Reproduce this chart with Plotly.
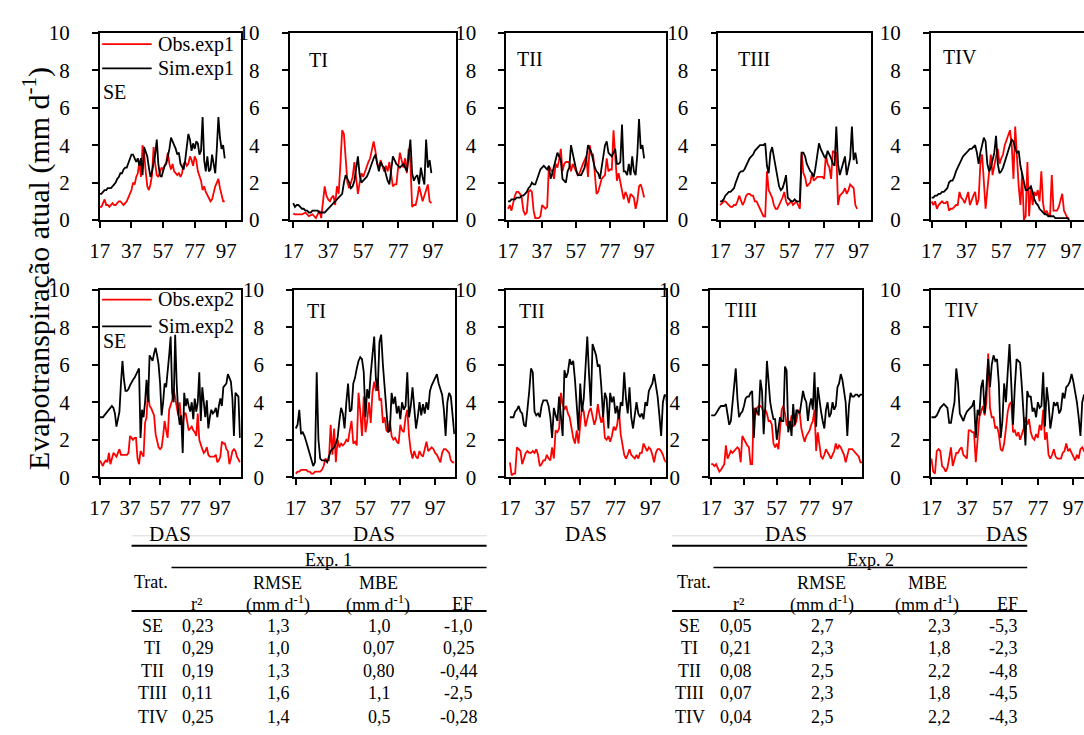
import plotly.graph_objects as go

W, H = 1084, 735
FONT = "Liberation Serif, Times New Roman, serif"

# ---------------- data (DAS starts at 17, one value per day) ----------------
DAS_START = 17
X_TICKS = [17, 37, 57, 77, 97]
Y_TICKS = [0, 2, 4, 6, 8, 10]

SE_OBS1 = [0.7,0.7,0.9,1.1,0.8,0.8,0.7,0.8,0.9,0.8, 0.8,0.9,1.0,1.0,0.9,0.8,0.9,1.0,1.2,1.4,
           1.6,2.0,1.9,2.3,2.5,3.1,2.3,4.0,3.6,2.6, 1.8,1.6,1.9,2.4,3.9,3.0,2.4,2.3,2.6,2.8,
           2.7,2.9,3.1,3.6,3.0,2.7,3.0,2.6,2.5,2.4, 2.5,2.3,2.5,3.0,3.1,2.9,3.0,3.4,3.2,2.9,
           3.4,3.2,2.6,2.3,2.1,1.6,1.8,1.5,1.3,1.2, 1.0,1.1,1.5,1.8,2.0,2.2,1.7,1.3,1.0,1.0]
SE_SIM1 = [1.4,1.4,1.5,1.6,1.6,1.7,1.7,1.7,1.8,1.9, 2.0,2.2,2.3,2.5,2.5,2.7,2.8,2.8,3.0,3.3,
           3.5,3.5,3.3,3.1,3.3,2.9,3.3,2.4,3.9,3.7, 3.4,2.8,2.3,2.6,3.0,3.5,4.3,3.0,2.4,2.3,
           2.6,2.9,3.0,3.4,3.8,4.4,4.2,4.1,3.8,3.5, 3.6,3.0,2.8,2.7,3.2,4.1,4.6,4.3,3.7,4.1,
           3.8,4.2,4.1,3.5,3.7,5.5,3.2,2.6,3.4,2.6, 2.7,3.5,3.0,2.5,3.8,5.5,4.4,3.8,4.0,3.3]

TI_OBS1 = [0.35,0.3,0.3,0.3,0.3,0.3,0.35,0.4,0.3,0.2, 0.25,0.3,0.2,0.1,0.3,0.5,0.1,0.8,1.8,1.3,
           1.1,1.0,1.2,1.3,0.8,1.8,1.4,3.0,4.8,4.6, 3.0,2.0,1.7,2.0,2.3,3.1,2.2,1.4,2.0,2.5,
           2.3,2.6,2.8,3.1,3.3,3.8,4.2,3.7,3.0,2.8, 3.2,2.9,2.6,2.9,2.6,3.1,2.3,1.8,1.9,1.9,
           2.8,3.6,3.2,2.8,3.3,2.5,3.8,3.1,0.7,0.8, 0.8,1.2,1.8,1.4,1.0,1.3,1.6,1.9,1.0,0.9]
TI_SIM1 = [0.9,0.7,0.8,0.8,0.7,0.6,0.6,0.5,0.5,0.4, 0.4,0.5,0.5,0.5,0.5,0.4,0.4,0.4,0.4,0.5,
           0.6,0.7,0.8,0.9,1.0,1.1,1.2,1.3,1.4,2.0, 2.4,2.2,2.0,1.7,1.8,2.1,2.8,3.4,2.4,2.0,
           2.1,2.2,2.3,2.5,2.8,3.0,3.3,3.5,3.0,2.6, 3.1,2.9,2.8,2.4,2.1,1.9,2.6,3.4,3.2,3.0,
           2.9,2.8,2.9,3.0,2.8,2.6,3.4,4.3,2.5,2.1, 2.3,2.4,1.9,2.8,2.3,1.9,4.3,2.8,3.2,2.5]

TII_OBS1 = [0.6,0.8,0.5,0.9,1.3,1.5,1.5,1.4,1.2,0.5, 0.3,0.4,1.5,1.6,1.5,0.5,0.1,0.1,0.1,0.2,
            0.8,0.7,0.6,0.7,2.9,2.7,2.6,2.2,3.0,2.8, 3.2,3.8,2.6,3.0,3.1,3.1,3.1,2.6,3.0,2.8,
            2.6,2.4,2.5,2.8,3.0,3.2,3.4,2.3,4.0,3.5, 3.5,2.5,1.4,1.5,1.8,2.2,2.3,2.4,3.3,2.6,
            2.7,2.7,4.8,3.5,2.1,2.5,2.0,1.5,1.1,1.5, 1.3,0.9,1.4,1.3,1.2,0.6,1.0,1.8,1.9,1.6,1.2]
TII_SIM1 = [1.0,1.0,1.1,1.1,1.1,1.2,1.2,1.2,1.3,1.3, 1.4,1.5,1.7,1.8,2.0,1.9,1.9,2.2,2.5,2.7,
            2.8,2.9,2.8,2.7,2.9,2.2,2.5,2.9,3.2,3.6, 3.4,3.2,2.2,2.1,2.0,2.6,2.8,4.0,3.5,3.0,
            2.7,2.4,2.4,2.4,2.6,2.8,3.3,4.0,3.8,3.6, 3.2,2.8,2.6,2.5,2.2,2.9,3.6,4.0,4.2,3.6,
            3.5,3.4,3.6,3.8,3.0,3.0,3.1,5.1,2.6,2.6, 2.4,3.0,2.4,3.4,2.6,2.4,3.5,5.4,3.8,4.0,3.3]

TIII_OBS1 = [0.8,0.9,1.0,1.0,0.9,0.8,0.7,0.7,0.8,0.8, 1.0,1.3,1.0,0.8,1.0,1.3,1.4,1.4,1.3,1.3,
             1.0,1.0,0.8,0.6,0.4,0.2,0.2,2.6,1.6,1.4, 1.2,0.8,0.6,0.6,0.8,1.0,1.2,1.5,1.0,0.8,
             0.9,1.0,0.8,0.9,1.0,0.8,0.6,3.6,2.5,2.3, 1.8,1.9,2.0,2.5,2.1,2.2,2.3,2.3,2.3,2.3,
             2.2,3.5,3.0,2.8,2.2,3.7,3.6,3.6,0.8,1.3, 1.4,1.5,1.7,1.4,1.6,1.9,1.8,1.7,0.8,0.6]
TIII_SIM1 = [1.0,1.0,1.1,1.3,1.4,1.5,1.5,1.6,1.7,2.0, 2.3,2.5,2.6,2.6,2.7,2.9,3.1,3.3,3.4,3.5,
             3.7,3.8,3.9,4.0,4.0,4.0,4.1,2.9,2.5,3.6, 3.9,3.4,2.9,2.3,1.8,1.6,1.7,2.0,2.4,1.2,
             1.1,1.0,1.0,1.1,1.0,1.0,1.0,3.6,3.6,3.4, 3.0,2.8,2.6,2.5,2.3,2.8,3.4,4.1,3.8,3.6,
             3.4,3.3,3.7,3.5,3.3,3.0,2.9,5.0,3.0,2.4, 2.7,3.0,3.4,2.4,2.9,3.3,5.0,3.2,3.6,3.0]

TIV_OBS1 = [1.0,0.8,1.0,0.6,0.8,0.9,1.0,0.9,0.9,1.0, 0.5,0.6,0.6,0.7,0.8,0.8,1.5,1.2,1.1,0.9,
            1.2,1.5,0.8,1.1,1.3,1.5,0.8,1.1,3.0,3.5, 1.8,0.6,1.6,2.5,3.5,2.4,3.0,3.4,3.8,3.0,
            3.3,3.5,4.0,4.3,4.6,4.8,4.0,2.2,5.0,3.0, 1.8,0.8,2.5,0.0,0.2,3.1,0.2,1.8,0.8,1.5,
            1.3,1.6,1.0,2.6,0.9,0.3,0.5,0.3,0.2,2.4, 0.5,0.5,0.5,0.7,1.0,1.4,0.5,0.3,0.1,0.1]
TIV_SIM1 = [1.2,1.2,1.3,1.3,1.4,1.4,1.5,1.5,1.6,1.7, 2.0,2.1,2.1,2.3,2.6,2.8,3.0,3.2,3.4,3.5,
            3.6,3.7,3.8,3.8,3.9,4.0,3.6,3.0,3.6,4.1, 4.4,4.2,3.0,2.6,2.8,3.2,3.6,4.5,3.0,2.5,
            2.6,2.8,3.1,3.5,3.8,4.0,4.3,4.2,3.8,3.6, 3.7,2.9,2.4,2.0,1.6,1.6,1.7,1.8,1.5,1.1,
            0.9,0.8,0.6,0.5,0.4,0.3,0.3,0.2,0.2,0.2, 0.2,0.1,0.1,0.1,0.1,0.1,0.1,0.1,0.1,0.0]

SE_OBS2 = [0.9,0.7,0.6,0.8,0.9,0.8,1.3,0.7,1.0,1.3, 1.2,1.1,1.3,1.5,1.2,1.2,1.2,1.2,1.2,1.3,
           2.2,2.1,2.0,2.1,2.1,1.0,0.7,1.4,1.2,1.1, 2.9,3.2,4.8,3.8,3.7,3.5,3.3,2.3,2.0,1.6,
           1.5,1.6,2.2,3.0,2.5,2.1,3.6,3.8,4.1,4.7, 4.3,3.9,3.3,4.0,3.0,2.8,3.4,3.4,3.0,2.5,
           2.6,2.7,2.5,2.4,2.2,3.4,2.0,1.7,1.5,1.3, 1.4,1.6,1.2,1.1,1.1,1.1,1.1,1.2,0.8,0.9,
           1.1,1.9,1.8,1.8,1.5,1.4,0.7,1.0,1.4,1.5, 1.4,1.1,0.9,0.8]
SE_SIM2 = [3.2,3.2,3.2,3.3,3.4,3.5,3.6,3.7,3.8,3.7, 3.4,2.7,3.2,3.5,5.0,6.2,5.2,4.6,4.6,4.7,
           4.9,5.1,5.2,5.3,5.5,5.7,5.8,2.1,3.6,3.2, 4.0,5.2,4.0,6.5,6.3,6.2,6.6,6.9,6.5,6.0,
           5.0,3.3,4.0,5.0,4.8,5.5,6.5,7.5,4.5,4.0, 7.6,5.0,3.5,2.8,3.3,1.3,4.5,3.8,4.2,3.8,
           3.5,4.0,3.1,4.2,3.5,4.0,5.6,3.0,4.8,4.0, 3.2,4.1,2.6,3.2,3.6,3.4,3.5,3.7,3.2,3.8,
           4.2,3.8,4.8,4.9,5.0,5.5,5.3,5.1,4.2,2.2, 4.5,4.4,4.3,2.1]

TI_OBS2 = [0.2,0.3,0.3,0.4,0.4,0.4,0.4,0.3,0.3,0.2, 0.2,0.3,0.3,0.3,0.3,0.4,0.6,1.0,0.9,0.9,
           2.8,1.2,2.6,0.8,2.0,1.6,1.8,1.7,1.8,2.0, 1.9,2.5,3.0,1.8,1.9,1.7,4.5,3.5,2.2,4.3,
           2.4,3.0,4.0,2.9,4.5,5.1,4.6,5.3,4.1,4.2, 2.9,3.2,2.5,2.4,3.0,2.2,2.0,2.1,1.9,1.8,
           2.8,2.5,2.4,3.2,3.6,2.2,1.4,1.0,1.4,1.1, 1.0,1.4,1.2,1.1,1.5,1.9,1.4,1.5,1.6,1.5,
           1.3,1.2,1.0,0.8,1.3,1.5,1.5,1.4,1.3,0.9, 0.8,0.8]
TI_SIM2 = [2.6,2.8,3.6,2.3,2.4,2.2,1.9,1.6,1.3,1.0, 0.6,0.8,5.6,2.0,1.0,0.9,0.9,0.9,0.8,1.1,
           1.4,1.5,1.6,1.8,2.1,3.0,3.7,3.4,2.6,4.0, 5.0,3.5,3.6,5.0,5.3,5.8,6.2,6.4,6.3,5.6,
           3.2,4.7,4.2,5.5,6.5,7.5,5.2,4.6,7.2,7.6, 6.0,4.5,3.6,2.4,2.5,4.5,3.9,4.3,3.4,3.8,
           3.1,4.0,3.6,3.8,5.6,3.2,3.8,4.8,3.6,2.6, 3.2,4.0,3.3,3.9,3.4,4.0,3.6,4.6,4.9,5.1,
           5.3,5.5,5.0,4.7,4.4,3.6,2.2,4.0,4.5,4.3, 3.4,2.3]

TII_OBS2 = [0.8,0.1,0.2,0.2,1.6,1.5,1.4,0.7,1.0,1.3, 1.4,1.3,1.3,1.4,1.3,1.5,1.2,0.6,0.7,0.9,
            0.9,1.2,1.0,0.9,1.6,1.0,2.5,2.4,2.6,4.5, 3.9,3.6,3.8,3.4,3.2,2.6,2.1,1.8,2.5,1.8,
            3.0,3.8,3.5,2.7,3.1,3.5,3.7,3.3,2.8,3.1, 3.9,3.3,2.9,3.3,2.1,2.0,2.2,1.9,2.2,2.7,
            2.5,2.8,3.6,2.3,1.8,1.2,1.0,1.2,1.5,1.2, 1.1,1.0,1.2,1.0,1.3,1.3,1.8,1.6,1.4,1.6,
            1.5,1.2,0.8,1.3,1.5,1.5,1.4,1.2,0.9,0.8]
TII_SIM2 = [3.2,3.2,3.2,3.5,3.6,3.8,3.5,3.4,2.8,2.7, 3.5,4.6,5.8,5.6,3.5,3.3,3.4,3.2,3.8,4.1,
            4.1,4.1,3.8,3.2,2.1,3.7,3.3,3.0,4.3,3.0, 2.2,5.7,5.3,5.6,6.3,6.0,6.2,5.2,4.0,2.5,
            5.0,3.5,4.2,5.8,7.5,5.5,3.8,7.1,6.8,6.5, 5.9,6.0,4.8,3.2,4.5,4.2,2.6,4.5,4.0,4.3,
            3.4,3.8,3.1,4.0,3.8,5.6,4.2,3.4,4.8,3.2, 2.6,3.2,4.0,3.4,3.2,3.4,3.1,4.0,3.8,4.6,
            4.8,5.0,5.5,5.0,4.3,3.3,2.2,4.0,4.4,4.3, 2.2]

TIII_OBS2 = [0.7,0.7,0.6,0.7,0.5,0.3,0.4,0.6,0.7,1.7, 1.0,1.2,1.4,1.3,1.4,1.5,1.6,1.5,0.8,2.2,
             2.0,1.9,1.7,1.6,0.7,0.7,3.7,3.3,3.7,3.8, 3.8,3.7,3.4,3.6,3.4,3.0,3.0,2.8,1.8,1.6,
             1.8,1.5,2.5,3.6,3.8,3.4,2.8,2.7,2.7,3.3, 2.7,2.8,3.0,3.6,3.4,2.6,2.2,1.9,2.2,2.4,
             2.5,2.8,3.0,3.6,1.4,2.4,1.6,1.1,1.0,1.2, 1.5,1.3,1.1,1.0,1.2,1.4,1.8,1.5,1.7,1.6,
             1.4,1.2,0.8,1.1,1.5,1.5,1.5,1.4,1.3,1.2, 1.1,0.8,0.8]
TIII_SIM2 = [3.3,3.3,3.3,3.4,3.6,3.7,3.8,3.8,3.8,3.9, 3.3,2.8,3.0,4.0,4.8,5.8,4.2,3.2,3.4,3.5,
             3.8,4.2,4.3,4.3,4.5,4.6,2.1,3.7,3.5,3.3, 5.2,4.6,2.3,3.8,6.2,4.8,4.0,3.5,3.1,3.1,
             2.0,2.6,3.2,3.0,3.0,5.9,5.7,2.4,3.0,2.2, 3.9,2.8,3.6,3.5,3.4,4.0,4.6,4.2,4.0,3.0,
             3.8,4.2,3.6,5.6,2.7,4.8,4.0,3.5,3.0,2.6, 3.6,4.0,3.2,3.4,4.0,3.6,3.8,4.8,5.0,5.5,
             5.2,4.6,4.0,2.2,3.8,4.5,4.3,4.3,4.4,4.4, 4.3,4.4,4.4]

TIV_OBS2 = [1.0,0.3,0.2,1.4,1.5,1.4,0.6,0.5,0.3,0.5, 1.0,1.6,0.6,1.0,1.3,1.3,1.5,1.6,1.2,1.1,
            1.0,2.5,2.5,2.4,2.4,0.8,2.2,3.2,3.5,3.8, 3.3,4.0,6.6,3.7,3.2,3.2,2.6,2.7,2.3,1.5,
            1.4,1.8,2.6,3.5,3.9,4.0,2.4,2.5,2.2,2.4, 2.0,2.3,2.6,3.2,2.8,3.1,2.4,2.1,2.0,2.3,
            2.1,2.8,2.5,3.6,2.0,2.4,1.2,1.0,1.2,1.5, 1.1,1.0,1.0,1.0,1.3,1.4,1.8,1.4,1.5,1.3,
            1.1,0.9,1.2,1.0,1.5,1.6,1.4,1.3]
TIV_SIM2 = [3.2,3.2,3.2,3.3,3.5,3.7,3.8,3.9,3.8,3.7, 2.9,2.9,3.5,4.0,5.8,5.0,3.4,3.2,3.0,3.3,
            3.5,3.6,3.7,3.8,4.1,2.1,3.6,3.3,4.8,5.2, 3.4,4.8,6.3,4.8,6.0,6.5,6.2,6.3,5.0,2.1,
            3.0,5.0,4.0,5.6,7.1,5.0,2.8,4.8,6.3,6.2, 6.1,4.8,3.2,1.7,4.6,4.3,4.3,3.5,3.7,3.2,
            4.0,3.7,3.8,5.6,2.7,4.8,4.0,2.6,3.2,4.0, 3.8,4.0,3.4,3.6,4.5,4.2,4.8,4.9,5.1,5.5,
            5.1,4.6,4.0,3.2,2.2,4.0,4.4,4.3]

# ---------------- table values ----------------
TRAT = ["SE", "TI", "TII", "TIII", "TIV"]
EXP1_R2 = ["0,23", "0,29", "0,19", "0,11", "0,25"]
EXP1_RMSE = ["1,3", "1,0", "1,3", "1,6", "1,4"]
EXP1_MBE = ["1,0", "0,07", "0,80", "1,1", "0,5"]
EXP1_EF = ["-1,0", "0,25", "-0,44", "-2,5", "-0,28"]
EXP2_R2 = ["0,05", "0,21", "0,08", "0,07", "0,04"]
EXP2_RMSE = ["2,7", "2,3", "2,5", "2,3", "2,5"]
EXP2_MBE = ["2,3", "1,8", "2,2", "1,8", "2,2"]
EXP2_EF = ["-5,3", "-2,3", "-4,8", "-4,5", "-4,3"]

PANEL_SERIES = [
    ("SE", SE_OBS1, SE_SIM1), ("TI", TI_OBS1, TI_SIM1), ("TII", TII_OBS1, TII_SIM1),
    ("TIII", TIII_OBS1, TIII_SIM1), ("TIV", TIV_OBS1, TIV_SIM1),
    ("SE", SE_OBS2, SE_SIM2), ("TI", TI_OBS2, TI_SIM2), ("TII", TII_OBS2, TII_SIM2),
    ("TIII", TIII_OBS2, TIII_SIM2), ("TIV", TIV_OBS2, TIV_SIM2),
]

# ---------------- layout geometry (pixels) ----------------
ROW_Y = {1: (21.7, 215.0), 2: (287.0, 481.0)}
PANEL_GEOM = [
    (1, (90.7, 233.0), (17, 106.2), (92, 83)),
    (1, (282.3, 450.0), (15, 110.0), (300, 50)),
    (1, (501.0, 662.0), (16, 109.8), (510, 49)),
    (1, (715.0, 869.0), (16, 104.0), (733, 49)),
    (1, (929.3, 1084.0), (16.5, 104.5), (940, 47)),
    (2, (90.7, 233.0), (17, 110.6), (92, 340)),
    (2, (286.7, 449.0), (16, 108.3), (298, 309)),
    (2, (501.0, 662.0), (15, 105.7), (512, 309)),
    (2, (706.7, 860.0), (16.4, 109.0), (720, 308)),
    (2, (929.3, 1084.0), (16.6, 103.0), (942, 308)),
]

def fx(px):
    return px / W

def fy(py):
    return 1 - py / H

RED = "#ff0000"
BLACK = "#000000"
LW = 1.8

fig = go.Figure()
annotations = []
shapes = []
layout_axes = {}

for i, ((label, obs, sim), (row, xd, xr, lab_pos)) in enumerate(zip(PANEL_SERIES, PANEL_GEOM), start=1):
    xa = "x" if i == 1 else f"x{i}"
    ya = "y" if i == 1 else f"y{i}"
    fig.add_trace(go.Scatter(x=list(range(DAS_START, DAS_START + len(obs))), y=obs,
                             mode="lines", line=dict(color=RED, width=LW),
                             xaxis=xa, yaxis=ya, showlegend=False, hoverinfo="skip"))
    fig.add_trace(go.Scatter(x=list(range(DAS_START, DAS_START + len(sim))), y=sim,
                             mode="lines", line=dict(color=BLACK, width=LW),
                             xaxis=xa, yaxis=ya, showlegend=False, hoverinfo="skip"))
    y0, y1 = ROW_Y[row]
    last_col = (i % 5 == 0)
    common = dict(showline=True, linecolor="black", linewidth=1.8, ticks="outside",
                  ticklen=6, tickwidth=1.8, tickcolor="black", showgrid=False, zeroline=False,
                  tickfont=dict(family=FONT, size=21, color="black"))
    layout_axes["xaxis" if i == 1 else f"xaxis{i}"] = dict(
        common, domain=[fx(xd[0]), fx(xd[1])], range=list(xr), tickvals=X_TICKS,
        anchor=ya, mirror=True, ticklabelstandoff=5)
    layout_axes["yaxis" if i == 1 else f"yaxis{i}"] = dict(
        common, domain=[fy(y1), fy(y0)], range=[0, 10], tickvals=Y_TICKS,
        anchor=xa, mirror=(not last_col), ticklabelstandoff=18)
    annotations.append(dict(text=label, x=fx(lab_pos[0]), y=fy(lab_pos[1]), xref="paper",
                            yref="paper", xanchor="left", yanchor="middle", showarrow=False,
                            font=dict(family=FONT, size=20, color="black")))
    if row == 2:
        annotations.append(dict(text="DAS", x=fx((xd[0] + xd[1]) / 2), y=fy(540),
                                xref="paper", yref="paper", xanchor="center", yanchor="middle",
                                showarrow=False, font=dict(family=FONT, size=21, color="black")))

# legends
LEGENDS = [("Obs.exp1", RED, 33.3), ("Sim.exp1", BLACK, 58.3),
           ("Obs.exp2", RED, 297.3), ("Sim.exp2", BLACK, 325.0)]
for txt, col, py in LEGENDS:
    shapes.append(dict(type="line", xref="paper", yref="paper", x0=fx(93), x1=fx(143),
                       y0=fy(py), y1=fy(py), line=dict(color=col, width=LW)))
    annotations.append(dict(text=txt, x=fx(147), y=fy(py), xref="paper", yref="paper",
                            xanchor="left", yanchor="middle", showarrow=False,
                            font=dict(family=FONT, size=20, color="black")))

# y-axis title
annotations.append(dict(text="Evapotranspiração atual (mm d<sup>-1</sup>)", x=fx(27), y=fy(265),
                        xref="paper", yref="paper", textangle=-90, xanchor="center",
                        yanchor="middle", showarrow=False,
                        font=dict(family=FONT, size=30, color="black")))

# tables
TFONT = dict(family=FONT, size=18, color="black")
ROW_PY = [635, 657.5, 681, 704.5, 728.5]

def add_table(x_left, x_right, x_exp_line, exp_title, exp_cx, trat_cx, head_cx, col_cx,
              r2, rmse, mbe, ef):
    shapes.append(dict(type="line", xref="paper", yref="paper", x0=fx(x_left), x1=fx(x_right),
                       y0=fy(541.5), y1=fy(541.5), line=dict(color="#d8d8d8", width=1)))
    shapes.append(dict(type="line", xref="paper", yref="paper", x0=fx(x_left), x1=fx(x_right),
                       y0=fy(551.7), y1=fy(551.7), line=dict(color="black", width=2)))
    shapes.append(dict(type="line", xref="paper", yref="paper", x0=fx(x_exp_line), x1=fx(x_right),
                       y0=fy(574.3), y1=fy(574.3), line=dict(color="black", width=1.5)))
    shapes.append(dict(type="line", xref="paper", yref="paper", x0=fx(x_left), x1=fx(x_right),
                       y0=fy(619.3), y1=fy(619.3), line=dict(color="black", width=2)))

    def t(text, cx, cy):
        annotations.append(dict(text=text, x=fx(cx), y=fy(cy), xref="paper", yref="paper",
                                xanchor="center", yanchor="middle", showarrow=False, font=TFONT))
    t(exp_title, exp_cx, 566)
    t("Trat.", trat_cx, 589.5)
    t("RMSE", head_cx[1], 590)
    t("MBE", head_cx[2], 590)
    t("r²", head_cx[0], 611.5)
    t("(mm d<sup>-1</sup>)", head_cx[1], 611.5)
    t("(mm d<sup>-1</sup>)", head_cx[2], 611.5)
    t("EF", head_cx[3], 611.5)
    for k, py in enumerate(ROW_PY):
        t(TRAT[k], col_cx[0], py)
        t(r2[k], col_cx[1], py)
        t(rmse[k], col_cx[2], py)
        t(mbe[k], col_cx[3], py)
        t(ef[k], col_cx[4], py)

add_table(122.7, 481.0, 163.0, "Exp. 1", 321.7, 142.5, (188.0, 270.0, 371.7, 456.7),
          (144.0, 189.7, 270.7, 372.5, 453.0), EXP1_R2, EXP1_RMSE, EXP1_MBE, EXP1_EF)
add_table(668.3, 1026.7, 710.0, "Exp. 2", 868.3, 690.0, (735.0, 819.5, 926.0, 1006.7),
          (686.0, 732.3, 820.0, 938.3, 1002.3), EXP2_R2, EXP2_RMSE, EXP2_MBE, EXP2_EF)

fig.update_layout(
    width=W, height=H, margin=dict(l=0, r=0, t=0, b=0),
    paper_bgcolor="white", plot_bgcolor="white",
    font=dict(family=FONT, color="black"),
    annotations=annotations, shapes=shapes, showlegend=False,
    **layout_axes,
)

fig.write_html("out.html")
